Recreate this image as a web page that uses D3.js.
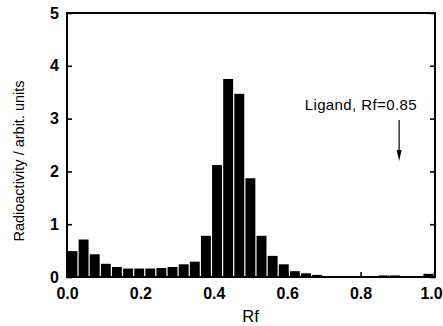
<!DOCTYPE html>
<html>
<head>
<meta charset="utf-8">
<script src="https://cdn.jsdelivr.net/npm/d3@7"></script>
<style>
  html, body { margin: 0; padding: 0; background: #fff; }
  svg { display: block; }
  text { font-family: "Liberation Sans", Arial, Helvetica, sans-serif; fill: #000; }
</style>
</head>
<body>
<svg id="chart" width="443" height="326"></svg>
<script>
// Radioactivity per Rf fraction (33 equal fractions from 0 to 1)
const binCount = 33;
const activity = [0.49, 0.71, 0.43, 0.25, 0.19, 0.16, 0.16, 0.16, 0.17, 0.19, 0.24,
                  0.29, 0.78, 2.12, 3.75, 3.47, 1.87, 0.78, 0.40, 0.24, 0.11, 0.07,
                  0.04, 0.01, 0, 0, 0, 0, 0.03, 0.03, 0, 0, 0.06];
const xTicks = [0, 0.2, 0.4, 0.6, 0.8, 1.0];
const yTicks = [0, 1, 2, 3, 4, 5];
const ligandLabel = "Ligand, Rf=0.85";
const ligandArrowRf = 0.905;

const svg = d3.select("#chart");
const margin = { left: 67, right: 8, top: 13, bottom: 49 };
const W = 443, H = 326;

const x = d3.scaleLinear().domain([0, 1]).range([margin.left, W - margin.right - 1]);
const y = d3.scaleLinear().domain([0, 5]).range([H - margin.bottom, margin.top]);

const bins = activity.map((v, i) => ({ x0: i / binCount, x1: (i + 1) / binCount, v }));

// bars
svg.append("g").selectAll("rect")
  .data(bins)
  .join("rect")
  .attr("x", d => x(d.x0) + 0.5)
  .attr("width", d => Math.max(0, x(d.x1) - x(d.x0) - 1.2))
  .attr("y", d => y(d.v))
  .attr("height", d => y(0) - y(d.v))
  .attr("fill", "#000");

// frame
svg.append("rect")
  .attr("x", x(0)).attr("y", y(5))
  .attr("width", x(1) - x(0) + 1).attr("height", y(0) - y(5))
  .attr("fill", "none").attr("stroke", "#000").attr("stroke-width", 2);

// axes with inward ticks
const tickFmt = d3.format(".1f");
const bottom = svg.append("g").attr("transform", `translate(0,${y(0)})`)
  .call(d3.axisBottom(x).tickValues(xTicks).tickSizeInner(-5).tickSizeOuter(0).tickPadding(11).tickFormat(tickFmt));
const left = svg.append("g").attr("transform", `translate(${x(0)},0)`)
  .call(d3.axisLeft(y).tickValues(yTicks).tickSizeInner(-5).tickSizeOuter(0).tickPadding(8).tickFormat(d3.format("d")));
const right = svg.append("g").attr("transform", `translate(${x(1) + 1},0)`)
  .call(d3.axisRight(y).tickValues(yTicks).tickSizeInner(-5).tickSizeOuter(0).tickFormat(""));

[bottom, left, right].forEach(g => {
  g.select(".domain").remove();
  g.selectAll(".tick line").attr("stroke", "#000").attr("stroke-width", 1.6);
  g.selectAll("text").style("font-size", "16px").style("font-weight", "bold")
    .style("font-family", "'Liberation Sans', Arial, sans-serif");
});
// keep the last x label inside the window
bottom.selectAll(".tick text").filter(d => d === 1).attr("dx", -3);

// axis titles
svg.append("text")
  .attr("x", (x(0) + x(1)) / 2).attr("y", 322)
  .attr("text-anchor", "middle")
  .style("font-size", "16.5px")
  .text("Rf");

svg.append("text")
  .attr("transform", `translate(24,161) rotate(-90)`)
  .attr("text-anchor", "middle")
  .style("font-size", "14.5px")
  .text("Radioactivity / arbit. units");

// ligand annotation
svg.append("text")
  .attr("x", 417).attr("y", 110)
  .attr("text-anchor", "end")
  .style("font-size", "15px")
  .style("letter-spacing", "0.4px")
  .text(ligandLabel);

const ax = x(ligandArrowRf);
svg.append("line")
  .attr("x1", ax).attr("x2", ax).attr("y1", 120).attr("y2", 155)
  .attr("stroke", "#000").attr("stroke-width", 1.2);
svg.append("path")
  .attr("d", `M${ax - 2.5},150 L${ax + 2.5},150 L${ax},161 Z`)
  .attr("fill", "#000");
</script>
</body>
</html>
